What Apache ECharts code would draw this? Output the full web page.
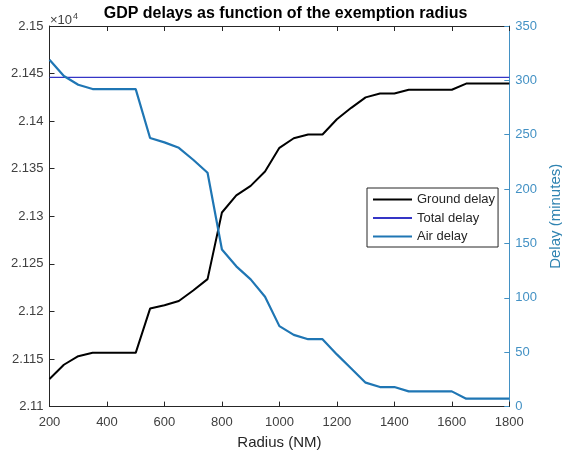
<!DOCTYPE html>
<html>
<head>
<meta charset="utf-8">
<title>GDP delays as function of the exemption radius</title>
<script src="https://cdn.jsdelivr.net/npm/echarts@6/dist/echarts.min.js"></script>
<style>
  html, body { margin: 0; padding: 0; background: #fff; }
  #chart { width: 562px; height: 459px; }
</style>
</head>
<body>
<div id="chart"></div>
<script>
// Exemption radius (NM)
const radius = [200, 250, 300, 350, 400, 450, 500, 550, 600, 650, 700, 750, 800, 850, 900, 950,
  1000, 1050, 1100, 1150, 1200, 1250, 1300, 1350, 1400, 1450, 1500, 1550, 1600, 1650, 1700, 1750, 1800];

// Ground delay (left axis, minutes)
const groundDelay = [21129, 21144, 21153, 21156.5, 21156.5, 21156.5, 21156.5, 21203, 21206.5, 21211,
  21222, 21234, 21304, 21322, 21332, 21347, 21372, 21382, 21386, 21386, 21402, 21414, 21425, 21429,
  21429, 21433, 21433, 21433, 21433, 21439.5, 21439.5, 21439.5, 21439.5];

// Total delay (left axis, minutes)
const totalDelay = [21446, 21446, 21446, 21446, 21446, 21446, 21446, 21446, 21446, 21446, 21446,
  21446, 21446, 21446, 21446, 21446, 21446, 21446, 21446, 21446, 21446, 21446, 21446, 21446, 21446,
  21446, 21446, 21446, 21446, 21446, 21446, 21446, 21446];

// Air delay (right axis, minutes)
const airDelay = [319, 304, 296, 292, 292, 292, 292, 247, 243, 238, 227, 215, 144.5, 129, 117, 101,
  74, 66, 62, 62, 48, 35, 22, 18, 18, 14, 14, 14, 14, 7.3, 7.3, 7.3, 7.3];

// Axis ranges and tick spacing
const xRange = [200, 1800, 200];
const leftRange = [21100, 21500, 50];
const rightRange = [0, 350, 50];

const pairs = (ys) => radius.map((r, i) => [r, ys[i]]);

const axisGray = '#262626';
const labelGray = '#404040';
const rightBlue = '#4391c4';
const font = 'Liberation Sans, Arial, Helvetica, sans-serif';

const chart = echarts.init(document.getElementById('chart'));

chart.setOption({
  animation: false,
  textStyle: { fontFamily: font },
  grid: {
    left: 49.5, right: 52.7, top: 26, bottom: 52.4,
    containLabel: false,
    outerBoundsMode: 'none'
  },
  legend: {
    orient: 'vertical',
    left: 367,
    top: 188,
    padding: [5, 3, 4, 5],
    itemGap: 5.5,
    itemWidth: 39,
    itemHeight: 13,
    backgroundColor: '#fff',
    borderColor: '#262626',
    borderWidth: 1,
    borderRadius: 0,
    itemStyle: { opacity: 0 },
    textStyle: { fontSize: 13, color: '#262626', fontFamily: font },
    data: ['Ground delay', 'Total delay', 'Air delay']
  },
  xAxis: [
    {
      type: 'value',
      position: 'bottom',
      min: xRange[0], max: xRange[1], interval: xRange[2],
      name: 'Radius (NM)',
      nameLocation: 'middle',
      nameGap: 29,
      nameTextStyle: { fontSize: 15, color: axisGray, fontFamily: font },
      axisLine: { show: true, onZero: false, lineStyle: { color: axisGray, width: 1 } },
      axisTick: { show: true, inside: true, length: 5, lineStyle: { color: axisGray } },
      axisLabel: { fontSize: 13, color: labelGray, margin: 9, fontFamily: font, formatter: (v) => String(v) },
      splitLine: { show: false }
    },
    {
      type: 'value',
      position: 'top',
      min: xRange[0], max: xRange[1], interval: xRange[2],
      axisLine: { show: true, onZero: false, lineStyle: { color: axisGray, width: 1 } },
      axisTick: { show: true, inside: true, length: 5, lineStyle: { color: axisGray } },
      axisLabel: { show: false },
      splitLine: { show: false }
    }
  ],
  yAxis: [
    {
      type: 'value',
      position: 'left',
      min: leftRange[0], max: leftRange[1], interval: leftRange[2],
      axisLine: { show: true, onZero: false, lineStyle: { color: axisGray, width: 1 } },
      axisTick: { show: true, inside: true, length: 5, lineStyle: { color: axisGray } },
      axisLabel: {
        fontSize: 13, color: labelGray, margin: 6, fontFamily: font,
        formatter: (v) => String(Number((v / 10000).toFixed(4)))
      },
      splitLine: { show: false }
    },
    {
      type: 'value',
      position: 'right',
      min: rightRange[0], max: rightRange[1], interval: rightRange[2],
      name: 'Delay (minutes)',
      nameLocation: 'middle',
      nameRotate: 90,
      nameGap: 33,
      nameTextStyle: { fontSize: 15, color: '#2f83b1', fontFamily: font },
      axisLine: { show: true, onZero: false, lineStyle: { color: rightBlue, width: 1 } },
      axisTick: { show: true, inside: true, length: 5, lineStyle: { color: rightBlue } },
      axisLabel: { fontSize: 13, color: rightBlue, margin: 6, fontFamily: font, formatter: (v) => String(v) },
      splitLine: { show: false }
    }
  ],
  series: [
    {
      name: 'Ground delay',
      type: 'line',
      xAxisIndex: 0, yAxisIndex: 0,
      data: pairs(groundDelay),
      symbol: 'none',
      color: '#000000',
      lineStyle: { color: '#000000', width: 2 },
      z: 3
    },
    {
      name: 'Total delay',
      type: 'line',
      xAxisIndex: 0, yAxisIndex: 0,
      data: pairs(totalDelay),
      symbol: 'none',
      color: '#3535c6',
      lineStyle: { color: '#3535c6', width: 1.3 },
      z: 2
    },
    {
      name: 'Air delay',
      type: 'line',
      xAxisIndex: 0, yAxisIndex: 1,
      data: pairs(airDelay),
      symbol: 'none',
      color: '#1f76b4',
      lineStyle: { color: '#1f76b4', width: 2.2 },
      z: 4
    }
  ],
  graphic: [
    {
      type: 'text',
      x: 285.5, y: 6,
      style: {
        text: 'GDP delays as function of the exemption radius',
        font: 'bold 16px ' + font,
        fill: '#000000',
        align: 'center',
        verticalAlign: 'top'
      }
    },
    {
      type: 'text',
      x: 50, y: 12,
      style: {
        text: '×10{sup|4}',
        font: '13px ' + font,
        fill: labelGray,
        verticalAlign: 'top',
        rich: { sup: { fontSize: 9, verticalAlign: 'top', padding: [0, 0, 8, 1], fill: labelGray } }
      }
    }
  ]
});
</script>
</body>
</html>
